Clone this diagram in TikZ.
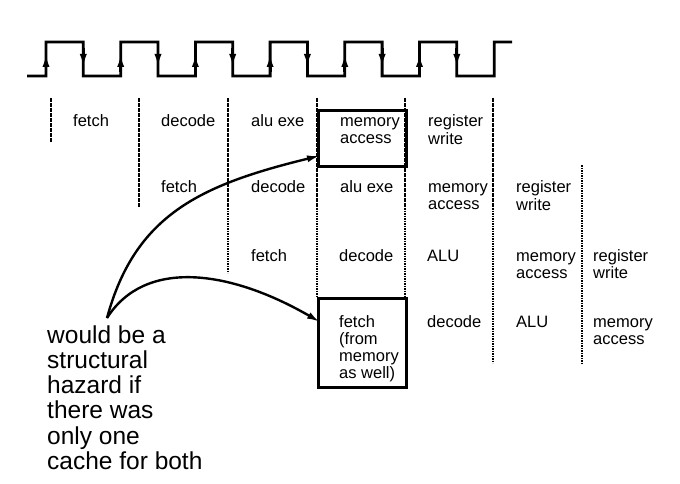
\documentclass[tikz,border=0pt]{standalone}
\usepackage{fontspec}
\setmainfont{Liberation Sans}
\usetikzlibrary{arrows.meta}
\newcommand\stk[1]{\begin{tabular}[t]{@{}l@{}}#1\end{tabular}}
\begin{document}
\begin{tikzpicture}[x=1pt,y=-1pt,
  lab/.style={anchor=base west, inner sep=0pt, font=\fontsize{16.5}{17}\selectfont},
  big/.style={anchor=base west, inner sep=0pt, font=\fontsize{24.5}{25}\selectfont},
  clk/.style={line width=2.8pt, line join=miter},
  sep/.style={line width=2.5pt, dash pattern=on 1.6pt off 0.9pt},
  hbox/.style={draw, line width=2.7pt, inner sep=0pt, anchor=north west},
  edgetip/.style={-{Latex[length=14pt,width=7pt]}, line width=2.8pt},
  conn/.style={line width=2.4pt, -{Latex[length=13pt,width=7pt]}}
]
\useasboundingbox (0,0) rectangle (680,484);

% clock
\draw[clk] (27,76) -- (46,76)
  \foreach \k in {0,...,5}{
    -- ({46+74.7*\k},42) -- ({83.3+74.7*\k},42) -- ({83.3+74.7*\k},76) -- ({120.7+74.7*\k},76)
  } -- (494.2,42) -- (512,42);
\foreach \k in {0,...,5}{
  \draw[edgetip] ({46+74.7*\k},72) -- ({46+74.7*\k},53);
  \draw[edgetip] ({83.3+74.7*\k},48) -- ({83.3+74.7*\k},68);
}

% stage separators
\draw[sep] (51,98) -- (51,142);
\draw[sep] (139,98) -- (139,207);
\draw[sep] (228,98) -- (228,273);
\draw[sep] (317,98) -- (317,297);
\draw[sep] (405,98) -- (405,297);
\draw[sep] (493,98) -- (493,363);
\draw[sep] (582,165) -- (582,363);

% highlighted boxes
\node[hbox, minimum width=88pt, minimum height=56pt] (box1) at (317,109) {};
\node[hbox, minimum width=88pt, minimum height=89pt] (box2) at (317,297) {};

% row 1
\node[lab] (a1) at (73,127) {fetch};
\node[lab] (a2) at (161,127) {decode};
\node[lab] (a3) at (251,127) {alu exe};
\node[lab] (a4) at (340,127) {\stk{memory\\access}};
\node[lab] (a5) at (428,127) {\stk{register\\write}};
% row 2
\node[lab] (b1) at (161,193) {fetch};
\node[lab] (b2) at (251,193) {decode};
\node[lab] (b3) at (340,193) {alu exe};
\node[lab] (b4) at (428,193) {\stk{memory\\access}};
\node[lab] (b5) at (516,193) {\stk{register\\write}};
% row 3
\node[lab] (c1) at (251,261) {fetch};
\node[lab] (c2) at (339,261) {decode};
\node[lab] (c3) at (427,261) {ALU};
\node[lab] (c4) at (516,261) {\stk{memory\\access}};
\node[lab] (c5) at (593,261) {\stk{register\\write}};
% row 4
\node[lab] (d1) at (339,327) {\stk{fetch\\(from\\memory\\as well)}};
\node[lab] (d2) at (427,327) {decode};
\node[lab] (d3) at (516,327) {ALU};
\node[lab] (d4) at (593,327) {\stk{memory\\access}};

% note
\node[big] (note) at (47,343) {\stk{would be a\\structural\\hazard if\\there was\\only one\\cache for both}};
\coordinate (apex) at (107,318);
\draw[conn] (apex) .. controls (135,215) and (200,185) .. ([xshift=3pt,yshift=12pt]box1.south west);
\draw[conn] (apex) .. controls (145,258) and (230,270) .. ([xshift=3pt,yshift=-25pt]box2.north west);
\end{tikzpicture}
\end{document}
